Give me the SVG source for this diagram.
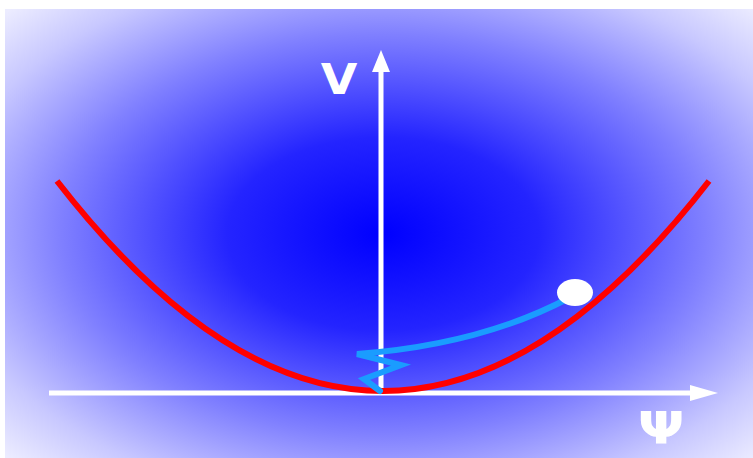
<svg xmlns="http://www.w3.org/2000/svg" width="753" height="458" viewBox="0 0 753 458">
<defs>
<radialGradient id="bg2" cx="383" cy="234" r="520" gradientUnits="userSpaceOnUse" gradientTransform="translate(383 234) scale(1 0.62) translate(-383 -234)">
<stop offset="0" stop-color="#0000ff"/>
<stop offset="0.3" stop-color="#2424ff"/>
<stop offset="0.62" stop-color="#8080ff"/>
<stop offset="0.85" stop-color="#c8c8ff"/>
<stop offset="1" stop-color="#ececff"/>
</radialGradient>
<style>
.axis{stroke:#ffffff;fill:none}
.head{fill:#ffffff}
.lbl{fill:#ffffff;font-family:"DejaVu Sans",sans-serif;font-weight:bold}
</style>
</defs>
<rect x="5" y="9" width="748" height="449" fill="url(#bg2)"/>
<g id="connectors">
<line class="axis" x1="49" y1="393" x2="695" y2="393" stroke-width="5"/>
<polygon class="head" points="718,393 690,385 690,401"/>
<line class="axis" x1="381" y1="393" x2="381" y2="70" stroke-width="5"/>
<polygon class="head" points="381,50 372,72 390,72"/>
</g>
<g id="curve">
<path d="M57,181 Q383,601 709,181" fill="none" stroke="#ff0000" stroke-width="6"/>
</g>
<g id="trajectory">
<path d="M569,298 Q480,345 357,354 L401,365 L364,379 L380,391" fill="none" stroke="#1a9cff" stroke-width="6" stroke-linejoin="miter" stroke-linecap="round"/>
</g>
<g id="ball">
<ellipse cx="575" cy="292.5" rx="18" ry="13.5" fill="#ffffff"/>
</g>
<g id="label-V">
<text class="lbl" x="0" y="0" font-size="43" text-anchor="middle" transform="translate(339 94) scale(1.1 1)">V</text>
</g>
<g id="label-psi">
<text class="lbl" x="0" y="0" font-size="44" text-anchor="middle" transform="translate(661 444) scale(1.25 1)">Ψ</text>
</g>
</svg>
